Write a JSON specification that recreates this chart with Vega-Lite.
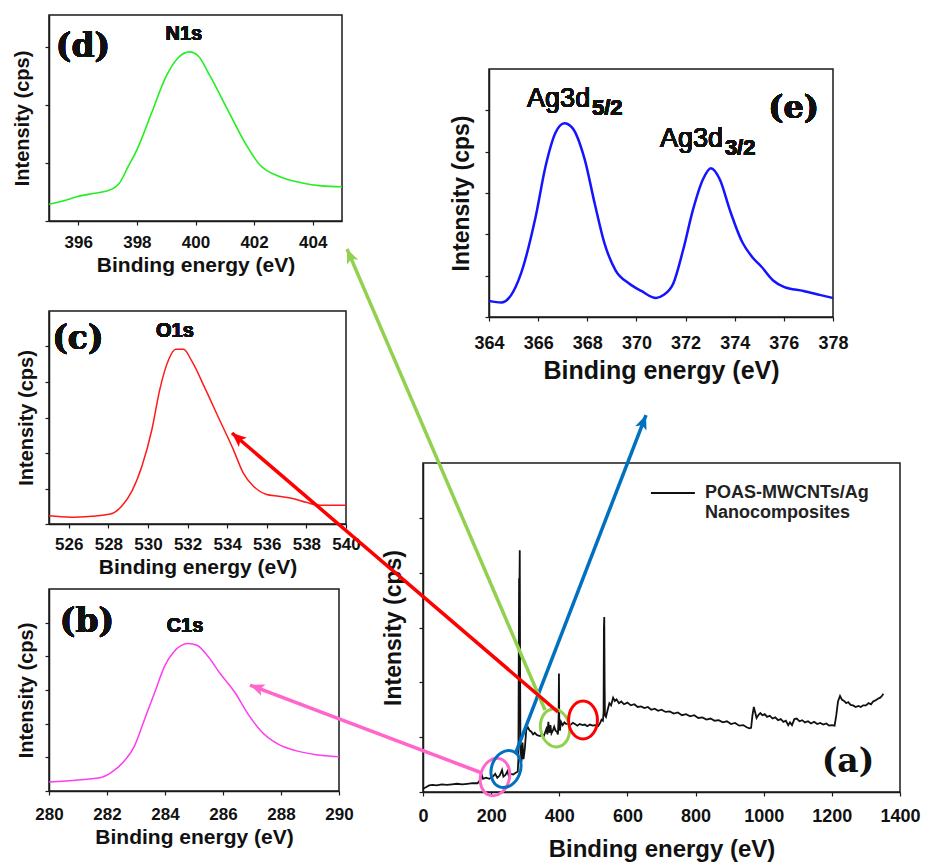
{
  "$schema": "https://vega.github.io/schema/vega-lite/v6.json",
  "background": "white",
  "padding": {"left": 11, "top": 14, "right": 0, "bottom": 0},
  "config": {
    "font": "Liberation Sans",
    "view": {"stroke": "#1a1a1a", "strokeWidth": 1.5},
    "axis": {"grid": false, "domainColor": "#1a1a1a", "domainWidth": 1.5, "tickColor": "#1a1a1a", "tickSize": 4, "tickWidth": 1.2, "labelColor": "#111", "titleColor": "#111", "labelFont": "Liberation Sans", "titleFont": "Liberation Sans", "labelFontWeight": "bold", "titleFontWeight": "bold", "labelFlush": false, "labelOverlap": false},
    "text": {"font": "Liberation Sans", "color": "#111"}
  },
  "datasets": {
    "n1s": [
      {"eV": 395.0, "cps": 0.58}, {"eV": 395.5, "cps": 0.70}, {"eV": 396.0, "cps": 0.85}, {"eV": 396.5, "cps": 0.95}, {"eV": 397.0, "cps": 1.04}, {"eV": 397.4, "cps": 1.3}, {"eV": 397.7, "cps": 1.87}, {"eV": 398.0, "cps": 2.45}, {"eV": 398.5, "cps": 3.72}, {"eV": 399.0, "cps": 4.99}, {"eV": 399.4, "cps": 5.62}, {"eV": 399.8, "cps": 5.83}, {"eV": 400.1, "cps": 5.68}, {"eV": 400.5, "cps": 4.99}, {"eV": 401.1, "cps": 3.83}, {"eV": 401.7, "cps": 2.68}, {"eV": 402.2, "cps": 1.93}, {"eV": 402.9, "cps": 1.52}, {"eV": 403.6, "cps": 1.32}, {"eV": 404.3, "cps": 1.21}, {"eV": 405.0, "cps": 1.18}
    ],
    "ag3d": [
      {"eV": 364.0, "cps": 0.39}, {"eV": 364.5, "cps": 0.35}, {"eV": 364.9, "cps": 0.53}, {"eV": 365.3, "cps": 1.05}, {"eV": 365.9, "cps": 2.43}, {"eV": 366.3, "cps": 3.64}, {"eV": 366.7, "cps": 4.45}, {"eV": 367.07, "cps": 4.69}, {"eV": 367.4, "cps": 4.57}, {"eV": 367.9, "cps": 3.80}, {"eV": 368.3, "cps": 2.75}, {"eV": 368.7, "cps": 1.78}, {"eV": 369.15, "cps": 1.13}, {"eV": 369.7, "cps": 0.81}, {"eV": 370.2, "cps": 0.63}, {"eV": 370.8, "cps": 0.46}, {"eV": 371.1, "cps": 0.53}, {"eV": 371.5, "cps": 0.81}, {"eV": 371.9, "cps": 1.62}, {"eV": 372.3, "cps": 2.59}, {"eV": 372.7, "cps": 3.32}, {"eV": 373.03, "cps": 3.60}, {"eV": 373.4, "cps": 3.32}, {"eV": 373.8, "cps": 2.59}, {"eV": 374.3, "cps": 1.82}, {"eV": 374.7, "cps": 1.46}, {"eV": 375.1, "cps": 1.21}, {"eV": 375.55, "cps": 0.89}, {"eV": 376.0, "cps": 0.73}, {"eV": 376.8, "cps": 0.63}, {"eV": 377.5, "cps": 0.53}, {"eV": 378.0, "cps": 0.46}
    ],
    "o1s": [
      {"eV": 525.0, "cps": 0.23}, {"eV": 526.1, "cps": 0.19}, {"eV": 527.15, "cps": 0.22}, {"eV": 528.1, "cps": 0.28}, {"eV": 528.7, "cps": 0.52}, {"eV": 529.2, "cps": 0.94}, {"eV": 529.7, "cps": 1.64}, {"eV": 530.2, "cps": 2.67}, {"eV": 530.6, "cps": 3.80}, {"eV": 531.05, "cps": 4.64}, {"eV": 531.4, "cps": 4.92}, {"eV": 531.8, "cps": 4.92}, {"eV": 532.2, "cps": 4.60}, {"eV": 532.9, "cps": 3.80}, {"eV": 533.6, "cps": 2.95}, {"eV": 534.3, "cps": 2.11}, {"eV": 534.8, "cps": 1.45}, {"eV": 535.3, "cps": 1.08}, {"eV": 535.95, "cps": 0.84}, {"eV": 536.6, "cps": 0.78}, {"eV": 537.3, "cps": 0.72}, {"eV": 537.98, "cps": 0.61}, {"eV": 538.7, "cps": 0.53}, {"eV": 540.0, "cps": 0.53}
    ],
    "c1s": [
      {"eV": 280.0, "cps": 0.27}, {"eV": 281.0, "cps": 0.33}, {"eV": 281.8, "cps": 0.40}, {"eV": 282.15, "cps": 0.55}, {"eV": 282.55, "cps": 0.85}, {"eV": 282.95, "cps": 1.34}, {"eV": 283.3, "cps": 2.14}, {"eV": 283.65, "cps": 2.94}, {"eV": 284.0, "cps": 3.73}, {"eV": 284.3, "cps": 4.13}, {"eV": 284.8, "cps": 4.38}, {"eV": 285.1, "cps": 4.33}, {"eV": 285.5, "cps": 3.98}, {"eV": 285.9, "cps": 3.49}, {"eV": 286.4, "cps": 2.94}, {"eV": 286.9, "cps": 2.24}, {"eV": 287.3, "cps": 1.79}, {"eV": 287.9, "cps": 1.39}, {"eV": 288.5, "cps": 1.20}, {"eV": 289.2, "cps": 1.08}, {"eV": 290.0, "cps": 1.02}
    ],
    "survey": [
      {"eV": 0, "cps": 0.06}, {"eV": 10, "cps": 0.09}, {"eV": 18, "cps": 0.12}, {"eV": 28, "cps": 0.13}, {"eV": 40, "cps": 0.12}, {"eV": 55, "cps": 0.14}, {"eV": 70, "cps": 0.13}, {"eV": 85, "cps": 0.14}, {"eV": 100, "cps": 0.15}, {"eV": 115, "cps": 0.14}, {"eV": 130, "cps": 0.15}, {"eV": 145, "cps": 0.16}, {"eV": 160, "cps": 0.16}, {"eV": 168, "cps": 0.22}, {"eV": 172, "cps": 0.32}, {"eV": 176, "cps": 0.24}, {"eV": 185, "cps": 0.26}, {"eV": 195, "cps": 0.24}, {"eV": 205, "cps": 0.28}, {"eV": 212, "cps": 0.33}, {"eV": 218, "cps": 0.26}, {"eV": 225, "cps": 0.30}, {"eV": 232, "cps": 0.40}, {"eV": 236, "cps": 0.28}, {"eV": 242, "cps": 0.31}, {"eV": 248, "cps": 0.38}, {"eV": 252, "cps": 0.29}, {"eV": 258, "cps": 0.33}, {"eV": 265, "cps": 0.32}, {"eV": 272, "cps": 0.35}, {"eV": 278, "cps": 0.37}, {"eV": 280, "cps": 0.6}, {"eV": 282, "cps": 3.9}, {"eV": 283, "cps": 3.6}, {"eV": 284, "cps": 4.41}, {"eV": 285, "cps": 2.2}, {"eV": 286, "cps": 0.85}, {"eV": 289, "cps": 0.55}, {"eV": 292, "cps": 0.9}, {"eV": 295, "cps": 0.6}, {"eV": 299, "cps": 0.8}, {"eV": 303, "cps": 1.13}, {"eV": 308, "cps": 1.18}, {"eV": 313, "cps": 1.12}, {"eV": 318, "cps": 1.10}, {"eV": 323, "cps": 1.05}, {"eV": 328, "cps": 1.08}, {"eV": 334, "cps": 1.04}, {"eV": 339, "cps": 1.03}, {"eV": 344, "cps": 1.02}, {"eV": 349, "cps": 1.06}, {"eV": 354, "cps": 1.01}, {"eV": 358, "cps": 1.08}, {"eV": 362, "cps": 1.15}, {"eV": 365, "cps": 1.05}, {"eV": 368, "cps": 1.28}, {"eV": 371, "cps": 1.08}, {"eV": 374, "cps": 1.22}, {"eV": 377, "cps": 1.07}, {"eV": 381, "cps": 1.12}, {"eV": 385, "cps": 1.19}, {"eV": 389, "cps": 1.12}, {"eV": 393, "cps": 1.10}, {"eV": 396, "cps": 1.05}, {"eV": 398, "cps": 1.35}, {"eV": 399, "cps": 2.16}, {"eV": 400, "cps": 1.3}, {"eV": 402, "cps": 1.12}, {"eV": 405, "cps": 1.28}, {"eV": 410, "cps": 1.22}, {"eV": 415, "cps": 1.27}, {"eV": 420, "cps": 1.24}, {"eV": 425, "cps": 1.25}, {"eV": 432, "cps": 1.22}, {"eV": 440, "cps": 1.26}, {"eV": 446, "cps": 1.24}, {"eV": 453, "cps": 1.21}, {"eV": 460, "cps": 1.24}, {"eV": 468, "cps": 1.22}, {"eV": 475, "cps": 1.23}, {"eV": 482, "cps": 1.20}, {"eV": 490, "cps": 1.23}, {"eV": 498, "cps": 1.21}, {"eV": 506, "cps": 1.22}, {"eV": 514, "cps": 1.20}, {"eV": 520, "cps": 1.26}, {"eV": 524, "cps": 1.32}, {"eV": 528, "cps": 1.30}, {"eV": 530, "cps": 1.45}, {"eV": 531, "cps": 3.0}, {"eV": 532, "cps": 3.19}, {"eV": 533, "cps": 2.0}, {"eV": 534, "cps": 1.4}, {"eV": 537, "cps": 1.37}, {"eV": 542, "cps": 1.5}, {"eV": 547, "cps": 1.62}, {"eV": 552, "cps": 1.58}, {"eV": 558, "cps": 1.72}, {"eV": 563, "cps": 1.66}, {"eV": 568, "cps": 1.69}, {"eV": 575, "cps": 1.62}, {"eV": 582, "cps": 1.65}, {"eV": 590, "cps": 1.60}, {"eV": 600, "cps": 1.63}, {"eV": 610, "cps": 1.58}, {"eV": 620, "cps": 1.60}, {"eV": 630, "cps": 1.55}, {"eV": 640, "cps": 1.56}, {"eV": 650, "cps": 1.53}, {"eV": 660, "cps": 1.55}, {"eV": 670, "cps": 1.50}, {"eV": 680, "cps": 1.52}, {"eV": 690, "cps": 1.48}, {"eV": 700, "cps": 1.50}, {"eV": 712, "cps": 1.46}, {"eV": 724, "cps": 1.47}, {"eV": 736, "cps": 1.43}, {"eV": 748, "cps": 1.45}, {"eV": 760, "cps": 1.40}, {"eV": 772, "cps": 1.42}, {"eV": 784, "cps": 1.38}, {"eV": 796, "cps": 1.40}, {"eV": 808, "cps": 1.35}, {"eV": 820, "cps": 1.36}, {"eV": 832, "cps": 1.32}, {"eV": 844, "cps": 1.34}, {"eV": 856, "cps": 1.30}, {"eV": 868, "cps": 1.31}, {"eV": 880, "cps": 1.27}, {"eV": 892, "cps": 1.29}, {"eV": 904, "cps": 1.24}, {"eV": 916, "cps": 1.26}, {"eV": 928, "cps": 1.21}, {"eV": 940, "cps": 1.22}, {"eV": 950, "cps": 1.18}, {"eV": 958, "cps": 1.16}, {"eV": 963, "cps": 1.17}, {"eV": 967, "cps": 1.40}, {"eV": 971, "cps": 1.55}, {"eV": 975, "cps": 1.45}, {"eV": 979, "cps": 1.35}, {"eV": 984, "cps": 1.40}, {"eV": 990, "cps": 1.44}, {"eV": 996, "cps": 1.40}, {"eV": 1003, "cps": 1.42}, {"eV": 1010, "cps": 1.37}, {"eV": 1018, "cps": 1.39}, {"eV": 1026, "cps": 1.34}, {"eV": 1034, "cps": 1.36}, {"eV": 1042, "cps": 1.31}, {"eV": 1050, "cps": 1.33}, {"eV": 1058, "cps": 1.28}, {"eV": 1065, "cps": 1.30}, {"eV": 1072, "cps": 1.22}, {"eV": 1077, "cps": 1.27}, {"eV": 1083, "cps": 1.22}, {"eV": 1090, "cps": 1.33}, {"eV": 1097, "cps": 1.34}, {"eV": 1105, "cps": 1.29}, {"eV": 1113, "cps": 1.31}, {"eV": 1121, "cps": 1.27}, {"eV": 1130, "cps": 1.29}, {"eV": 1139, "cps": 1.25}, {"eV": 1148, "cps": 1.28}, {"eV": 1157, "cps": 1.24}, {"eV": 1166, "cps": 1.26}, {"eV": 1175, "cps": 1.23}, {"eV": 1184, "cps": 1.25}, {"eV": 1192, "cps": 1.21}, {"eV": 1200, "cps": 1.22}, {"eV": 1208, "cps": 1.21}, {"eV": 1213, "cps": 1.40}, {"eV": 1218, "cps": 1.65}, {"eV": 1224, "cps": 1.75}, {"eV": 1230, "cps": 1.68}, {"eV": 1236, "cps": 1.66}, {"eV": 1242, "cps": 1.62}, {"eV": 1248, "cps": 1.64}, {"eV": 1255, "cps": 1.59}, {"eV": 1262, "cps": 1.58}, {"eV": 1270, "cps": 1.55}, {"eV": 1278, "cps": 1.57}, {"eV": 1285, "cps": 1.55}, {"eV": 1292, "cps": 1.58}, {"eV": 1300, "cps": 1.58}, {"eV": 1308, "cps": 1.62}, {"eV": 1315, "cps": 1.60}, {"eV": 1321, "cps": 1.65}, {"eV": 1328, "cps": 1.67}, {"eV": 1335, "cps": 1.70}, {"eV": 1342, "cps": 1.72}, {"eV": 1348, "cps": 1.76}, {"eV": 1351, "cps": 1.79}
    ],
    "markers": [
      {"target": "C1s", "x": 211.3, "y": 0.274, "tilt": 15},
      {"target": "Ag3d", "x": 243.6, "y": 0.419, "tilt": 20},
      {"target": "N1s", "x": 387.4, "y": 1.167, "tilt": -10},
      {"target": "O1s", "x": 469.6, "y": 1.313, "tilt": 0}
    ],
    "arrows": [
      {"target": "C1s", "x0": 173.2, "y0": 0.3465, "x1": -507.8, "y1": 1.951, "heading": 290.8},
      {"target": "Ag3d", "x0": 273.0, "y0": 0.729, "x1": 654.5, "y1": 6.875, "heading": 21.1},
      {"target": "N1s", "x0": 358.1, "y0": 1.495, "x1": -223.1, "y1": 9.903, "heading": 336.8},
      {"target": "O1s", "x0": 396.2, "y0": 1.459, "x1": -560.6, "y1": 6.547, "heading": 310.6}
    ]
  },
  "hconcat": [
    {
      "spacing": 34,
      "vconcat": [
        {
          "width": 293, "height": 206,
          "data": {"name": "n1s"},
          "layer": [
            {
              "mark": {"type": "line", "color": "#22ee22", "strokeWidth": 1.6, "interpolate": "monotone"},
              "encoding": {
                "x": {"field": "eV", "type": "quantitative", "scale": {"domain": [395, 405], "nice": false, "zero": false}, "axis": {"values": [396, 398, 400, 402, 404], "title": "Binding energy (eV)", "labelFontSize": 17, "titleFontSize": 21, "labelPadding": 9, "titlePadding": 4}},
                "y": {"field": "cps", "type": "quantitative", "scale": {"domain": [0, 7.1], "nice": false, "zero": false}, "axis": {"values": [0, 1, 2, 3, 4, 5, 6], "labels": false, "title": "Intensity (cps)", "titleFontSize": 20, "titlePadding": 12}}
              }
            },
            {
              "mark": {"type": "text", "font": "DejaVu Serif", "fontWeight": "bold", "fontSize": 33, "align": "center", "baseline": "middle"},
              "encoding": {"x": {"datum": 396.16}, "y": {"datum": 5.99}, "text": {"value": "(d)"}}
            },
            {
              "mark": {"type": "text", "fontWeight": "bold", "fontSize": 20, "align": "center", "baseline": "middle"},
              "encoding": {"x": {"datum": 399.6}, "y": {"datum": 6.44}, "text": {"value": "N1s"}}
            }
          ]
        },
        {
          "spacing": 10,
          "vconcat": [
            {
              "width": 297, "height": 213,
              "data": {"name": "o1s"},
              "layer": [
                {
                  "mark": {"type": "line", "color": "#ff1a1a", "strokeWidth": 1.5, "interpolate": "monotone"},
                  "encoding": {
                    "x": {"field": "eV", "type": "quantitative", "scale": {"domain": [525, 540], "nice": false, "zero": false}, "axis": {"values": [526, 528, 530, 532, 534, 536, 538, 540], "title": "Binding energy (eV)", "labelFontSize": 17, "titleFontSize": 21, "labelPadding": 8, "titlePadding": 4}},
                    "y": {"field": "cps", "type": "quantitative", "scale": {"domain": [0, 6], "nice": false, "zero": false}, "axis": {"values": [0, 1, 2, 3, 4, 5], "labels": false, "title": "Intensity (cps)", "titleFontSize": 20, "titlePadding": 8}}
                  }
                },
                {
                  "mark": {"type": "text", "font": "DejaVu Serif", "fontWeight": "bold", "fontSize": 33, "align": "center", "baseline": "middle"},
                  "encoding": {"x": {"datum": 526.46}, "y": {"datum": 5.21}, "text": {"value": "(c)"}}
                },
                {
                  "mark": {"type": "text", "fontWeight": "bold", "fontSize": 20, "align": "center", "baseline": "middle"},
                  "encoding": {"x": {"datum": 531.36}, "y": {"datum": 5.44}, "text": {"value": "O1s"}}
                }
              ]
            },
            {
              "width": 290, "height": 202,
              "data": {"name": "c1s"},
              "layer": [
                {
                  "mark": {"type": "line", "color": "#ff3cf0", "strokeWidth": 1.5, "interpolate": "monotone"},
                  "encoding": {
                    "x": {"field": "eV", "type": "quantitative", "scale": {"domain": [280, 290], "nice": false, "zero": false}, "axis": {"values": [280, 282, 284, 286, 288, 290], "title": "Binding energy (eV)", "labelFontSize": 17, "titleFontSize": 21, "labelPadding": 11, "titlePadding": 4}},
                    "y": {"field": "cps", "type": "quantitative", "scale": {"domain": [0, 6], "nice": false, "zero": false}, "axis": {"values": [0, 1, 2, 3, 4, 5], "labels": false, "title": "Intensity (cps)", "titleFontSize": 20, "titlePadding": 8}}
                  }
                },
                {
                  "mark": {"type": "text", "font": "DejaVu Serif", "fontWeight": "bold", "fontSize": 33, "align": "center", "baseline": "middle"},
                  "encoding": {"x": {"datum": 281.31}, "y": {"datum": 5.02}, "text": {"value": "(b)"}}
                },
                {
                  "mark": {"type": "text", "fontWeight": "bold", "fontSize": 20, "align": "center", "baseline": "middle"},
                  "encoding": {"x": {"datum": 284.69}, "y": {"datum": 4.9}, "text": {"value": "C1s"}}
                }
              ]
            }
          ]
        }
      ]
    },
    {
      "spacing": -138,
      "vconcat": [
        {"width": 10, "height": 54, "data": {"values": [{}]}, "mark": {"type": "text", "text": ""}, "view": {"stroke": null}},
        {
          "spacing": 0,
          "hconcat": [
            {"width": 26, "height": 10, "data": {"values": [{}]}, "mark": {"type": "text", "text": ""}, "view": {"stroke": null}},
            {
              "width": 344, "height": 248,
              "data": {"name": "ag3d"},
              "layer": [
                {
                  "mark": {"type": "line", "color": "#1414ff", "strokeWidth": 2.5, "interpolate": "monotone"},
                  "encoding": {
                    "x": {"field": "eV", "type": "quantitative", "scale": {"domain": [364, 378], "nice": false, "zero": false}, "axis": {"values": [364, 366, 368, 370, 372, 374, 376, 378], "title": "Binding energy (eV)", "labelFontSize": 18, "titleFontSize": 25, "labelPadding": 13, "titlePadding": 6}},
                    "y": {"field": "cps", "type": "quantitative", "scale": {"domain": [0, 6], "nice": false, "zero": false}, "axis": {"values": [0, 1, 2, 3, 4, 5], "labels": false, "title": "Intensity (cps)", "titleFontSize": 23, "titlePadding": 11}}
                  }
                },
                {
                  "mark": {"type": "text", "font": "DejaVu Serif", "fontWeight": "bold", "fontSize": 32, "align": "center", "baseline": "middle"},
                  "encoding": {"x": {"datum": 376.4}, "y": {"datum": 5.06}, "text": {"value": "(e)"}}
                },
                {
                  "mark": {"type": "text", "fontSize": 27, "align": "left", "baseline": "alphabetic"},
                  "encoding": {"x": {"datum": 365.55}, "y": {"datum": 5.08}, "text": {"value": "Ag3d"}}
                },
                {
                  "mark": {"type": "text", "fontSize": 22, "fontWeight": "bold", "align": "left", "baseline": "alphabetic"},
                  "encoding": {"x": {"datum": 368.19}, "y": {"datum": 4.89}, "text": {"value": "5/2"}}
                },
                {
                  "mark": {"type": "text", "fontSize": 27, "align": "left", "baseline": "alphabetic"},
                  "encoding": {"x": {"datum": 370.96}, "y": {"datum": 4.11}, "text": {"value": "Ag3d"}}
                },
                {
                  "mark": {"type": "text", "fontSize": 22, "fontWeight": "bold", "align": "left", "baseline": "alphabetic"},
                  "encoding": {"x": {"datum": 373.6}, "y": {"datum": 3.92}, "text": {"value": "3/2"}}
                }
              ]
            }
          ]
        },
        {
          "width": 477, "height": 329,
          "layer": [
            {
              "data": {"name": "survey"},
              "mark": {"type": "line", "color": "#111", "strokeWidth": 1.8},
              "encoding": {
                "x": {"field": "eV", "type": "quantitative", "scale": {"domain": [0, 1400], "nice": false, "zero": false}, "axis": {"values": [0, 200, 400, 600, 800, 1000, 1200, 1400], "format": "d", "title": "Binding energy (eV)", "labelFontSize": 18, "titleFontSize": 24, "labelPadding": 11, "titlePadding": 12}},
                "y": {"field": "cps", "type": "quantitative", "scale": {"domain": [0, 6], "nice": false, "zero": false}, "axis": {"values": [0, 1, 2, 3, 4, 5], "labels": false, "title": "Intensity (cps)", "titleFontSize": 23, "titlePadding": 13}}
              }
            },
            {
              "data": {"values": [{}]},
              "mark": {"type": "rule", "color": "#111", "strokeWidth": 2},
              "encoding": {"x": {"datum": 669}, "x2": {"datum": 798}, "y": {"datum": 5.453}}
            },
            {
              "data": {"values": [{}]},
              "mark": {"type": "text", "fontSize": 18, "fontWeight": "bold", "align": "left", "baseline": "middle", "color": "#222"},
              "encoding": {"x": {"datum": 827.7}, "y": {"datum": 5.453}, "text": {"value": "POAS-MWCNTs/Ag"}}
            },
            {
              "data": {"values": [{}]},
              "mark": {"type": "text", "fontSize": 18, "fontWeight": "bold", "align": "left", "baseline": "middle", "color": "#222"},
              "encoding": {"x": {"datum": 827.7}, "y": {"datum": 5.088}, "text": {"value": "Nanocomposites"}}
            },
            {
              "data": {"values": [{}]},
              "mark": {"type": "text", "font": "DejaVu Serif", "fontWeight": "bold", "fontSize": 33, "align": "center", "baseline": "middle"},
              "encoding": {"x": {"datum": 1247.4}, "y": {"datum": 0.547}, "text": {"value": "(a)"}}
            },
            {
              "data": {"name": "markers"},
              "mark": {"type": "point", "shape": "M0,-1C0.42,-1 0.76,-0.552 0.76,0C0.76,0.552 0.42,1 0,1C-0.42,1 -0.76,0.552 -0.76,0C-0.76,-0.552 -0.42,-1 0,-1Z", "size": 1444, "filled": false, "strokeWidth": 3, "opacity": 1},
              "encoding": {
                "x": {"field": "x", "type": "quantitative"},
                "y": {"field": "y", "type": "quantitative"},
                "angle": {"field": "tilt", "type": "quantitative", "scale": null},
                "color": {"field": "target", "type": "nominal", "scale": {"domain": ["C1s", "Ag3d", "N1s", "O1s"], "range": ["#ff66cc", "#0070c0", "#92d050", "#ff0000"]}, "legend": null}
              }
            },
            {
              "data": {"name": "arrows"},
              "mark": {"type": "rule", "strokeWidth": 3.5},
              "encoding": {
                "x": {"field": "x0", "type": "quantitative"},
                "y": {"field": "y0", "type": "quantitative"},
                "x2": {"field": "x1"},
                "y2": {"field": "y1"},
                "color": {"field": "target", "type": "nominal", "legend": null}
              }
            },
            {
              "data": {"name": "arrows"},
              "mark": {"type": "point", "shape": "M0,0L0.55,1.3L0,1L-0.55,1.3Z", "size": 484, "filled": true, "opacity": 1},
              "encoding": {
                "x": {"field": "x1", "type": "quantitative"},
                "y": {"field": "y1", "type": "quantitative"},
                "angle": {"field": "heading", "type": "quantitative", "scale": null},
                "color": {"field": "target", "type": "nominal", "legend": null}
              }
            }
          ]
        }
      ]
    }
  ],
  "spacing": -132
}
